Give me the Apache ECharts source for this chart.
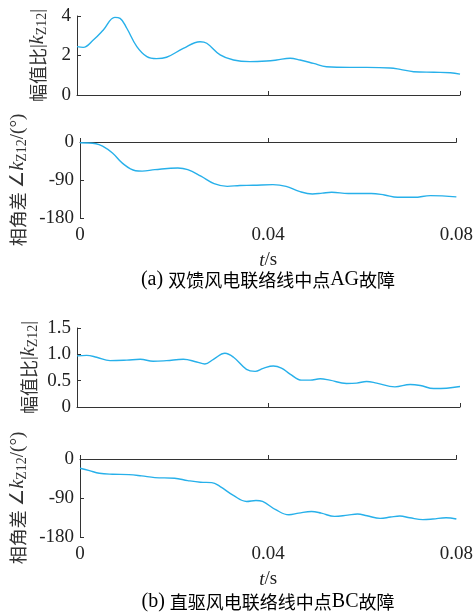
<!DOCTYPE html>
<html><head><meta charset="utf-8">
<script src="https://cdn.jsdelivr.net/npm/echarts@6/dist/echarts.min.js"></script>
<style>html,body{margin:0;padding:0;background:#fff}#c{width:476px;height:613px}</style>
</head><body><div id="c"></div>
<script>
const xTicks = [0, 0.04, 0.08];
const magTicksA = [0, 2, 4];
const magTicksB = [0, 0.5, 1.0, 1.5];
const angTicks = [-180, -90, 0];

const tMagA = [0,0.0013,0.0034,0.0055,0.0079,0.009,0.0104,0.0125,0.0146,0.0166,0.0187,0.0222,0.0257,0.0271,0.0299,0.0327,0.0361,0.0396,0.0417,0.0445,0.0466,0.0494,0.0521,0.057,0.0605,0.0654,0.0675,0.0703,0.0745,0.078,0.08];
const magA = [2.45,2.41,2.78,3.29,3.93,3.88,3.38,2.45,1.94,1.84,1.91,2.36,2.70,2.62,2.03,1.77,1.69,1.72,1.77,1.86,1.77,1.60,1.43,1.40,1.40,1.37,1.30,1.18,1.15,1.13,1.06];

const tAngA = [0,0.0034,0.0048,0.0069,0.009,0.0118,0.0132,0.0159,0.0208,0.0229,0.0257,0.0285,0.0313,0.034,0.0368,0.041,0.0438,0.0466,0.0494,0.0515,0.0535,0.057,0.0619,0.0647,0.0675,0.071,0.0745,0.08];
const angA = [-1.6,-4,-10,-26,-50,-68,-69,-65.5,-61.6,-65.5,-81,-98.7,-105,-103,-102.6,-101,-105,-117,-123,-121,-119,-122,-122,-125.5,-131,-131,-127,-130];

const tMagB = [0,0.002,0.0041,0.0069,0.0104,0.0132,0.0159,0.0187,0.0222,0.025,0.0267,0.0285,0.0309,0.0327,0.0354,0.0372,0.0389,0.041,0.0427,0.0445,0.0469,0.0487,0.0508,0.0528,0.0563,0.0584,0.0605,0.0626,0.0664,0.0696,0.0717,0.0745,0.0772,0.08];
const magB = [0.97,0.98,0.945,0.88,0.89,0.906,0.868,0.88,0.906,0.855,0.817,0.906,1.02,0.945,0.715,0.677,0.734,0.779,0.74,0.626,0.51,0.51,0.536,0.51,0.447,0.453,0.485,0.453,0.383,0.428,0.408,0.35,0.357,0.39];

const tAngB = [0,0.002,0.0041,0.0069,0.0104,0.0131,0.0159,0.0201,0.0229,0.0256,0.028,0.0298,0.0326,0.0354,0.0374,0.0388,0.0416,0.0444,0.0465,0.0492,0.0513,0.0541,0.0569,0.059,0.061,0.0638,0.066,0.068,0.0701,0.0729,0.075,0.0778,0.08];
const angB = [-21.4,-26.8,-32.9,-35.2,-36,-39,-42.9,-44.4,-49.8,-53.6,-54.4,-63.6,-84,-98,-95.7,-98,-117,-128.7,-124.9,-121,-124.9,-132.5,-129.4,-127,-131,-137,-134,-131.7,-135.6,-140,-138.6,-135.6,-138.6];

const captions = ['{l|(a) }{c|双馈风电联络线中点}{l|AG}{c|故障}', '{l|(b) }{c|直驱风电联络线中点}{l|BC}{c|故障}'];

const zip = (t, v) => t.map((x, i) => [x, v[i]]);
const serif = '"Liberation Serif","Times New Roman",serif';
const cjk = '"Noto Sans CJK SC",sans-serif';
const axisCol = '#333';
const lineCol = '#27b0ea';

const grids = [
  {left: 77, right: 16, top: 16, height: 79},
  {left: 77, right: 16, top: 142, height: 76},
  {left: 77, right: 16, top: 328, height: 79},
  {left: 77, right: 15, top: 459, height: 78}
];

function xAxis(i, showLabel) {
  return {
    type: 'value', gridIndex: i, min: xTicks[0], max: xTicks[xTicks.length-1], interval: xTicks[1]-xTicks[0],
    axisLine: {lineStyle: {color: axisCol, width: 1}},
    axisTick: {inside: true, length: 4, lineStyle: {color: axisCol}},
    splitLine: {show: false},
    axisLabel: {show: showLabel, color: '#222', fontFamily: serif, fontSize: 19, margin: 8,
      formatter: v => v === 0 ? '0' : v.toFixed(2)},
    name: showLabel ? '{i|t}{n|/s}' : '', nameLocation: 'middle', nameGap: 33, nameMoveOverlap: false,
    nameTextStyle: {rich: {
      i: {fontFamily: serif, fontStyle: 'italic', fontSize: 19, color: '#222'},
      n: {fontFamily: serif, fontSize: 19, color: '#222'}
    }}
  };
}
function yAxis(i, ticks, nameRich, fmt, gap) {
  return {
    type: 'value', gridIndex: i, min: ticks[0], max: ticks[ticks.length-1], interval: ticks[1]-ticks[0],
    axisLine: {show: true, lineStyle: {color: axisCol, width: 1}},
    axisTick: {show: true, inside: true, length: 4, lineStyle: {color: axisCol}},
    splitLine: {show: false},
    axisLabel: {color: '#222', fontFamily: serif, fontSize: 19, margin: 6, formatter: fmt},
    name: nameRich, nameLocation: 'middle', nameGap: gap, nameRotate: 90, nameMoveOverlap: false,
    nameTextStyle: {rich: {
      c: {fontFamily: cjk, fontSize: 18, color: '#333', lineHeight: 22},
      r: {fontFamily: serif, fontSize: 19, color: '#333', lineHeight: 22},
      i: {fontFamily: serif, fontStyle: 'italic', fontSize: 20, color: '#333', lineHeight: 22},
      s: {fontFamily: serif, fontSize: 14, color: '#333', lineHeight: 22, verticalAlign: 'bottom', padding: [6,0,0,0]}
    }}
  };
}
const magName = '{c|幅值比}{r||}{i|k}{s|Z12}{r||}';
const angName = '{c|相角差}{r| ∠}{i|k}{s|Z12}{r|/(°)}';

const captionRich = {
  l: {fontFamily: serif, fontSize: 20, fontWeight: 'normal', color: '#222'},
  c: {fontFamily: cjk, fontSize: 18, fontWeight: 'normal', color: '#222'}
};

const chart = echarts.init(document.getElementById('c'), null, {renderer: 'canvas'});
chart.setOption({
  animation: false,
  backgroundColor: '#fff',
  grid: grids,
  xAxis: [xAxis(0, false), xAxis(1, true), xAxis(2, false), xAxis(3, true)],
  yAxis: [
    yAxis(0, magTicksA, magName, v => String(v), 28),
    yAxis(1, angTicks, angName, v => String(v), 51),
    yAxis(2, magTicksB, magName, v => v === 0 ? '0' : v.toFixed(1), 37),
    yAxis(3, angTicks, angName, v => String(v), 51)
  ],
  graphic: [
    {type: 'text', x: 268, y: 280, style: {text: captions[0], rich: captionRich, align: 'center', verticalAlign: 'middle'}},
    {type: 'text', x: 268, y: 602, style: {text: captions[1], rich: captionRich, align: 'center', verticalAlign: 'middle'}}
  ],
  series: [
    {type: 'line', xAxisIndex: 0, yAxisIndex: 0, data: zip(tMagA, magA)},
    {type: 'line', xAxisIndex: 1, yAxisIndex: 1, data: zip(tAngA, angA)},
    {type: 'line', xAxisIndex: 2, yAxisIndex: 2, data: zip(tMagB, magB)},
    {type: 'line', xAxisIndex: 3, yAxisIndex: 3, data: zip(tAngB, angB)}
  ].map(s => Object.assign(s, {smooth: 0.4, symbol: 'none', lineStyle: {color: lineCol, width: 1.4}}))
});
</script></body></html>
